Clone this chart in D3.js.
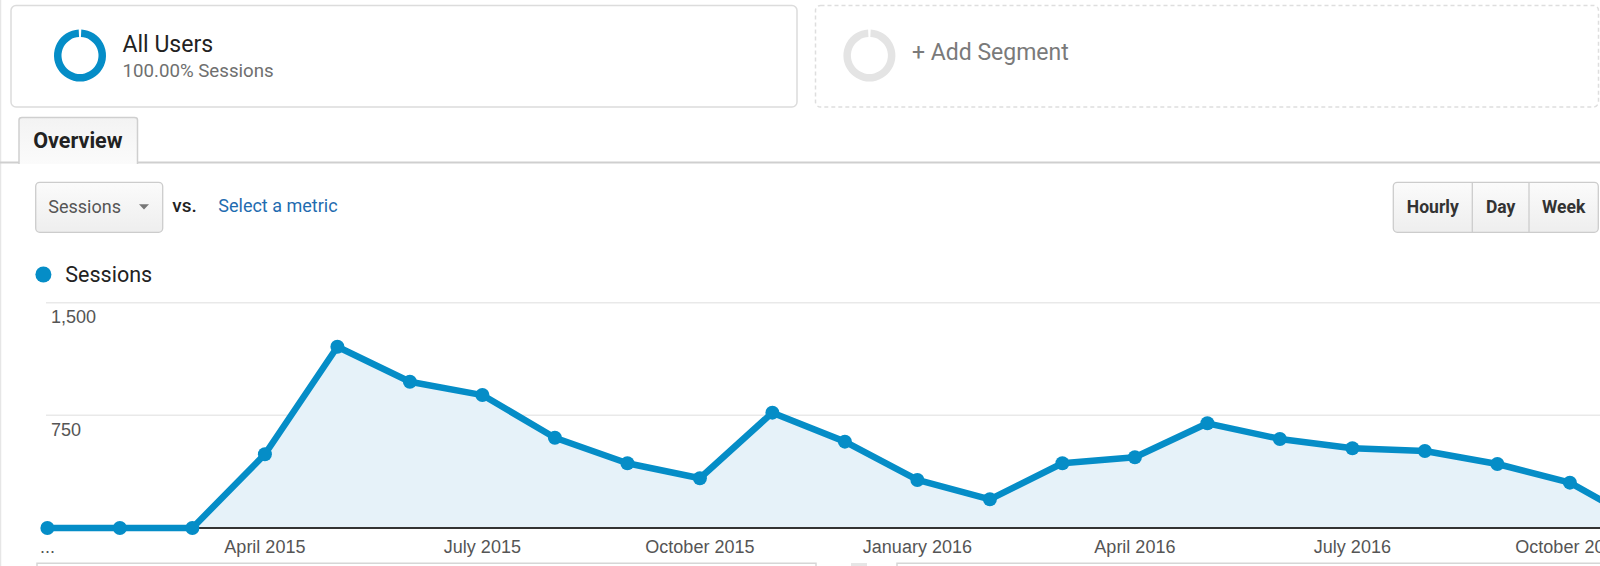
<!DOCTYPE html>
<html>
<head>
<meta charset="utf-8">
<script src="https://cdn.jsdelivr.net/npm/d3@7"></script>
<style>
  body { margin: 0; background: #fff; overflow: hidden; }
  svg { display: block; }
</style>
</head>
<body>
<div id="ga-overview"></div>
<script>

// Sessions per month, Jan 2015 - Nov 2016
const months = [
  "2015-01", "2015-02", "2015-03", "2015-04", "2015-05", "2015-06",
  "2015-07", "2015-08", "2015-09", "2015-10", "2015-11", "2015-12",
  "2016-01", "2016-02", "2016-03", "2016-04", "2016-05", "2016-06",
  "2016-07", "2016-08", "2016-09", "2016-10", "2016-11"
];
const sessions = [
  0, 0, 0, 491, 1207, 974,
  885, 601, 431, 331, 768, 575,
  320, 191, 431, 471, 697, 593,
  531, 513, 426, 302, 33
];
// x axis labels, one per month ("" = no label)
const xLabels = [
  "...", "", "", "April 2015", "", "",
  "July 2015", "", "", "October 2015", "", "",
  "January 2016", "", "", "April 2016", "", "",
  "July 2016", "", "", "October 2016", ""
];
const yTicks = [750, 1500];
const yLabels = ["750", "1,500"];

const timeButtons = ["Hourly", "Day", "Week"];

// dimensions
const width = 1600;
const height = 566;
const plot = {left: 46, right: 1600, top: 302.7, bottom: 528};
const step = 72.5;   // px between monthly points
const firstX = 47.4;

const blue = "#058dc7";
const uiFont = "Roboto, 'Noto Sans', sans-serif";
const axisFont = "'Liberation Sans', Arial, sans-serif";

const svg = d3.select("#ga-overview")
  .append("svg")
  .attr("width", width)
  .attr("height", height)
  .attr("viewBox", [0, 0, width, height]);

const defs = svg.append("defs");

// light button gradient
const btnGrad = defs.append("linearGradient")
  .attr("id", "btnGrad")
  .attr("x1", 0).attr("y1", 0).attr("x2", 0).attr("y2", 1);
btnGrad.append("stop").attr("offset", "0%").attr("stop-color", "#fbfbfb");
btnGrad.append("stop").attr("offset", "100%").attr("stop-color", "#eeeeee");

const tabGrad = defs.append("linearGradient")
  .attr("id", "tabGrad")
  .attr("x1", 0).attr("y1", 0).attr("x2", 0).attr("y2", 1);
tabGrad.append("stop").attr("offset", "0%").attr("stop-color", "#f3f3f3");
tabGrad.append("stop").attr("offset", "100%").attr("stop-color", "#fbfbfb");

/*

  Segment boxes

*/

// left border of the panel
svg.append("line")
  .attr("x1", 0.5).attr("x2", 0.5)
  .attr("y1", 0).attr("y2", height)
  .attr("stroke", "#e6e6e6")
  .attr("stroke-width", 1.5);

// "All Users" box
svg.append("rect")
  .attr("x", 11).attr("y", 5.5)
  .attr("width", 786).attr("height", 101.5)
  .attr("rx", 5)
  .attr("fill", "#fff")
  .attr("stroke", "#dcdcdc")
  .attr("stroke-width", 1.5);

// "+ Add Segment" box, dashed
svg.append("rect")
  .attr("x", 815.5).attr("y", 5.5)
  .attr("width", 783).attr("height", 101.5)
  .attr("rx", 5)
  .attr("fill", "#fff")
  .attr("stroke", "#dedede")
  .attr("stroke-width", 1.5)
  .attr("stroke-dasharray", "4,3");

const ring = d3.arc()
  .innerRadius(18.5)
  .outerRadius(26)
  .startAngle(0.05)
  .endAngle(2 * Math.PI - 0.05);

svg.append("path")
  .attr("d", ring())
  .attr("transform", "translate(80,55.5)")
  .attr("fill", blue);

svg.append("path")
  .attr("d", ring())
  .attr("transform", "translate(869.4,55.5)")
  .attr("fill", "#e4e4e4");

svg.append("text")
  .attr("x", 122.5).attr("y", 51.5)
  .attr("font-family", uiFont)
  .attr("font-size", "23px")
  .attr("fill", "#222")
  .text("All Users");

svg.append("text")
  .attr("x", 122.5).attr("y", 76.5)
  .attr("font-family", uiFont)
  .attr("font-size", "18.7px")
  .attr("fill", "#6f6f6f")
  .text("100.00% Sessions");

svg.append("text")
  .attr("x", 912).attr("y", 60)
  .attr("font-family", uiFont)
  .attr("font-size", "23px")
  .attr("fill", "#7a7a7a")
  .text("+ Add Segment");

/*

  Overview tab

*/

svg.append("line")
  .attr("x1", 0).attr("x2", width)
  .attr("y1", 162.5).attr("y2", 162.5)
  .attr("stroke", "#cfcfcf")
  .attr("stroke-width", 2);

svg.append("path")
  .attr("d", "M19,164 V120 Q19,117.5 22,117.5 H134.5 Q137.5,117.5 137.5,120 V164")
  .attr("fill", "url(#tabGrad)")
  .attr("stroke", "#cfcfcf")
  .attr("stroke-width", 1.5);

svg.append("text")
  .attr("x", 33.3).attr("y", 148.3)
  .attr("font-family", uiFont)
  .attr("font-weight", "bold")
  .attr("font-size", "21.5px")
  .attr("fill", "#222")
  .text("Overview");

/*

  Metric selector + time buttons

*/

svg.append("rect")
  .attr("x", 35.7).attr("y", 182.3)
  .attr("width", 127).attr("height", 50)
  .attr("rx", 4)
  .attr("fill", "url(#btnGrad)")
  .attr("stroke", "#cccccc")
  .attr("stroke-width", 1.3);

svg.append("text")
  .attr("x", 48.3).attr("y", 213.3)
  .attr("font-family", uiFont)
  .attr("font-size", "18px")
  .attr("fill", "#555")
  .text("Sessions");

svg.append("path")
  .attr("d", "M139,204.3 L149,204.3 L144,209.5 Z")
  .attr("fill", "#777");

svg.append("text")
  .attr("x", 172.3).attr("y", 211.7)
  .attr("font-family", uiFont)
  .attr("font-weight", 500)
  .attr("font-size", "19px")
  .attr("fill", "#222")
  .text("vs.");

svg.append("text")
  .attr("x", 218.3).attr("y", 212.3)
  .attr("font-family", uiFont)
  .attr("font-size", "18px")
  .attr("fill", "#1f6cb0")
  .text("Select a metric");

// button group Hourly | Day | Week
const btnEdges = [1393.3, 1472.3, 1529, 1598.3];

svg.append("rect")
  .attr("x", btnEdges[0]).attr("y", 182.3)
  .attr("width", btnEdges[3] - btnEdges[0]).attr("height", 50)
  .attr("rx", 4)
  .attr("fill", "url(#btnGrad)")
  .attr("stroke", "#cccccc")
  .attr("stroke-width", 1.3);

svg.selectAll(".btn-div")
  .data(btnEdges.slice(1, 3))
  .enter()
  .append("line")
    .attr("class", "btn-div")
    .attr("x1", d => d).attr("x2", d => d)
    .attr("y1", 182.3).attr("y2", 232.3)
    .attr("stroke", "#cccccc")
    .attr("stroke-width", 1.3);

svg.selectAll(".btn-label")
  .data(timeButtons)
  .enter()
  .append("text")
    .attr("class", "btn-label")
    .attr("x", (d, i) => (btnEdges[i] + btnEdges[i + 1]) / 2)
    .attr("y", 212.7)
    .attr("text-anchor", "middle")
    .attr("font-family", uiFont)
    .attr("font-weight", "bold")
    .attr("font-size", "17.5px")
    .attr("fill", "#333")
    .text(d => d);

/*

  Legend

*/

svg.append("circle")
  .attr("cx", 43.4).attr("cy", 274.5)
  .attr("r", 8)
  .attr("fill", blue);

svg.append("text")
  .attr("x", 65.3).attr("y", 282)
  .attr("font-family", uiFont)
  .attr("font-size", "21.5px")
  .attr("fill", "#222")
  .text("Sessions");

/*

  Scales

*/

const xScale = d3.scalePoint()
  .domain(months)
  .range([firstX, firstX + step * (months.length - 1)]);

const yScale = d3.scaleLinear()
  .domain([0, 1500])
  .range([plot.bottom, plot.top]);

// gridlines
svg.selectAll(".grid")
  .data(yTicks)
  .enter()
  .append("line")
    .attr("class", "grid")
    .attr("x1", plot.left).attr("x2", plot.right)
    .attr("y1", d => yScale(d)).attr("y2", d => yScale(d))
    .attr("stroke", "#e9e9e9")
    .attr("stroke-width", 1.5);

// y labels sit just below their gridline
svg.selectAll(".ylab")
  .data(yTicks)
  .enter()
  .append("text")
    .attr("class", "ylab")
    .attr("x", 51)
    .attr("y", d => yScale(d) + 20.5)
    .attr("font-family", axisFont)
    .attr("font-size", "18px")
    .attr("fill", "#555")
    .text((d, i) => yLabels[i]);

/*

  Area + line + points

*/

const area = d3.area()
  .x((d, i) => xScale(months[i]))
  .y0(yScale(0))
  .y1(d => yScale(d));

const line = d3.line()
  .x((d, i) => xScale(months[i]))
  .y(d => yScale(d));

svg.append("path")
  .datum(sessions)
  .attr("d", area)
  .attr("fill", "#e6f2f9");

// zero baseline
svg.append("line")
  .attr("x1", plot.left).attr("x2", plot.right)
  .attr("y1", yScale(0)).attr("y2", yScale(0))
  .attr("stroke", "#333")
  .attr("stroke-width", 2);

svg.append("path")
  .datum(sessions)
  .attr("d", line)
  .attr("fill", "none")
  .attr("stroke", blue)
  .attr("stroke-width", 6.5)
  .attr("stroke-linejoin", "round");

svg.selectAll(".dot")
  .data(sessions)
  .enter()
  .append("circle")
    .attr("class", "dot")
    .attr("cx", (d, i) => xScale(months[i]))
    .attr("cy", d => yScale(d))
    .attr("r", 7)
    .attr("fill", blue);

// x labels
svg.selectAll(".xlab")
  .data(months)
  .enter()
  .append("text")
    .attr("class", "xlab")
    .attr("x", d => xScale(d))
    .attr("y", 553)
    .attr("text-anchor", "middle")
    .attr("font-family", axisFont)
    .attr("font-size", "18px")
    .attr("fill", "#555")
    .text((d, i) => xLabels[i]);

/*

  Bits of the table below (cut off)

*/

svg.append("path")
  .attr("d", "M37,570 V563.3 H816 V570")
  .attr("fill", "none")
  .attr("stroke", "#d6d6d6")
  .attr("stroke-width", 1.5);

svg.append("path")
  .attr("d", "M897,570 V563.3 H1600")
  .attr("fill", "none")
  .attr("stroke", "#d6d6d6")
  .attr("stroke-width", 1.5);

svg.append("rect")
  .attr("x", 851).attr("y", 563)
  .attr("width", 16).attr("height", 6)
  .attr("fill", "#e6e6e6");

</script>
</body>
</html>
